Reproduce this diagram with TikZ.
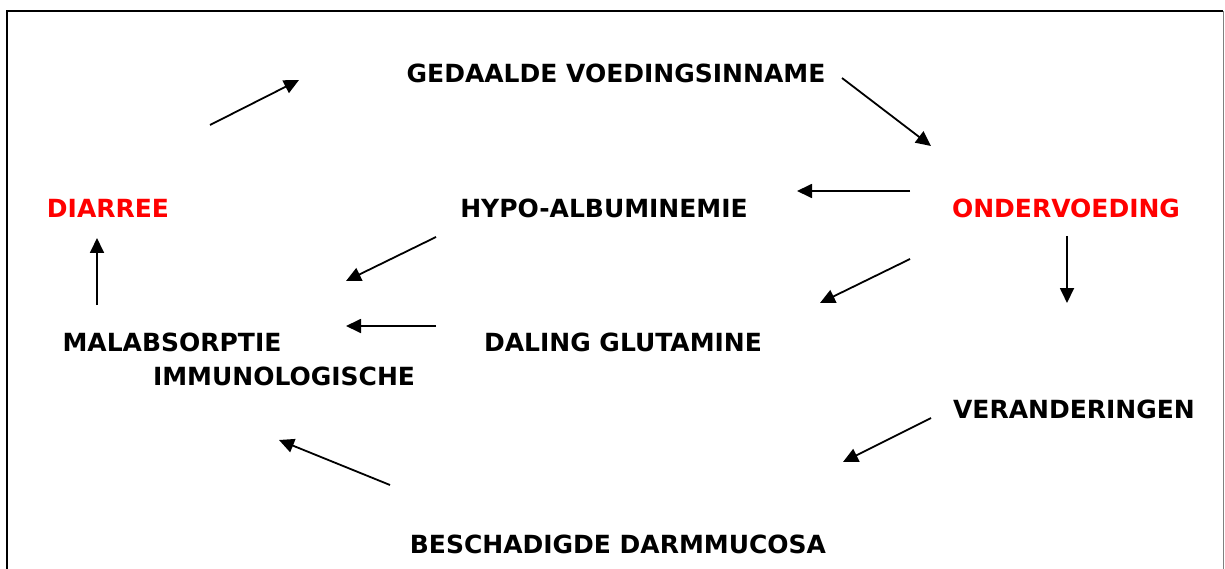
\documentclass[tikz,border=0pt]{standalone}
\usepackage{fontspec}
\setmainfont{DejaVu Sans}
\usepackage{tikz}
\usetikzlibrary{arrows.meta}

\definecolor{hotred}{RGB}{255,0,0}

\tikzset{
  lbl/.style={font=\bfseries\fontsize{25}{28}\selectfont, inner sep=0pt},
  redlbl/.style={lbl, text=hotred},
  arr/.style={-{Triangle[length=15pt,width=14pt]}, line width=1.8pt},
}

\begin{document}
\begin{tikzpicture}[x=1pt, y=-1pt]
    \useasboundingbox (0,0) rectangle (1225,569);
    \draw[line width=1.6pt] (7,580) -- (7,11) -- (1223,11);
    \draw[line width=1.6pt, gray] (1223.5,11) -- (1223.5,580);

    % labels
    \node[lbl] (inname) at (616,73) {GEDAALDE VOEDINGSINNAME};
    \node[redlbl] (diarree) at (108,208) {DIARREE};
    \node[lbl] (hypo) at (604,208) {HYPO-ALBUMINEMIE};
    \node[redlbl] (onder) at (1066,208) {ONDERVOEDING};
    \node[lbl] (malabs) at (172,342) {MALABSORPTIE};
    \node[lbl] (immuno) at (284,376) {IMMUNOLOGISCHE};
    \node[lbl] (daling) at (623,342) {DALING GLUTAMINE};
    \node[lbl] (verand) at (1074,409) {VERANDERINGEN};
    \node[lbl] (darm) at (618,544) {BESCHADIGDE DARMMUCOSA};

    % free arrow ends
    \coordinate (d1) at (210,125);   \coordinate (d2) at (299,80);
    \coordinate (v1) at (842,78);    \coordinate (v2) at (931,146);
    \coordinate (o1) at (910,191);   \coordinate (o2) at (797,191);
    \coordinate (o3) at (910,259);   \coordinate (o4) at (820,303);
    \coordinate (o5) at (1067,236);  \coordinate (o6) at (1067,303);
    \coordinate (h1) at (436,237);   \coordinate (h2) at (346,281);
    \coordinate (g1) at (436,326);   \coordinate (g2) at (346,326);
    \coordinate (m1) at (97,305);    \coordinate (m2) at (97,238);
    \coordinate (r1) at (931,418);   \coordinate (r2) at (843,462);
    \coordinate (b1) at (390,485);   \coordinate (b2) at (279,440);

    \draw[arr] (d1) -- (d2);
    \draw[arr] (v1) -- (v2);
    \draw[arr] (o1) -- (o2);
    \draw[arr] (o3) -- (o4);
    \draw[arr] (o5) -- (o6);
    \draw[arr] (h1) -- (h2);
    \draw[arr] (g1) -- (g2);
    \draw[arr] (m1) -- (m2);
    \draw[arr] (r1) -- (r2);
    \draw[arr] (b1) -- (b2);
\end{tikzpicture}
\end{document}
